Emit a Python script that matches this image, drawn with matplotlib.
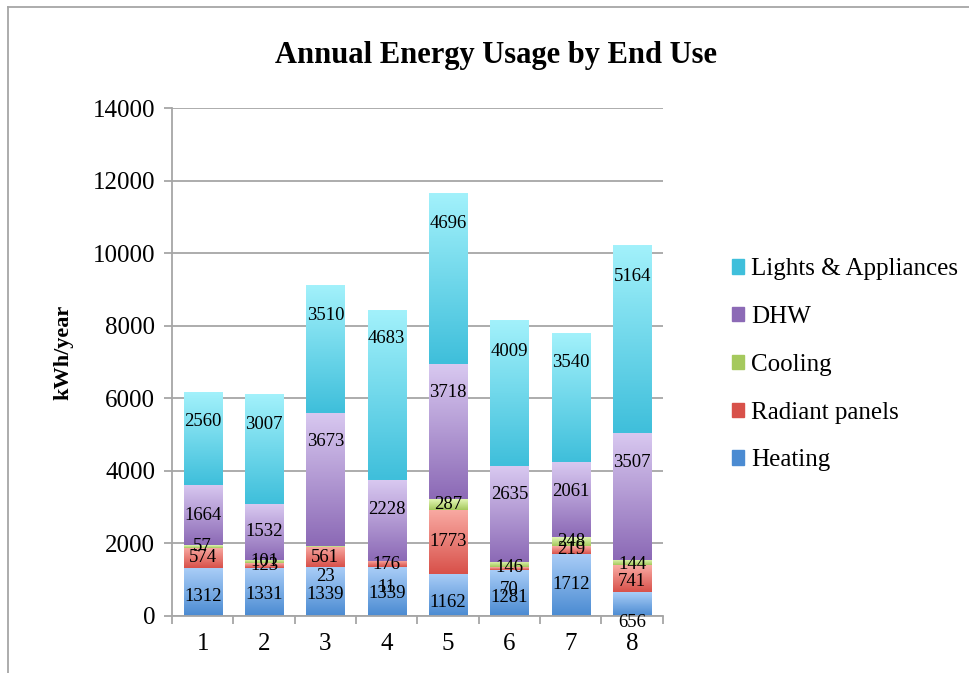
import numpy as np
import matplotlib.pyplot as plt
from matplotlib.colors import LinearSegmentedColormap
from matplotlib.lines import Line2D
from matplotlib.patches import Patch

plt.rcParams['font.family'] = ['Liberation Serif', 'DejaVu Serif']

# data
cases = ['1', '2', '3', '4', '5', '6', '7', '8']
heating = [1312, 1331, 1339, 1339, 1162, 1281, 1712, 656]
radiant = [574, 123, 561, 176, 1773, 70, 219, 741]
cooling = [57, 101, 23, 11, 287, 146, 248, 144]
dhw = [1664, 1532, 3673, 2228, 3718, 2635, 2061, 3507]
lights = [2560, 3007, 3510, 4683, 4696, 4009, 3540, 5164]

series = [
    ('Heating', heating, '#a9cdf7', '#4b8bd2'),
    ('Radiant panels', radiant, '#f9aaa3', '#d8514a'),
    ('Cooling', cooling, '#e2f6b4', '#a5c95d'),
    ('DHW', dhw, '#d8c8f0', '#8c6ab6'),
    ('Lights & Appliances', lights, '#a2f1fb', '#3fbfdb'),
]

# the labels in the original are not all at the segment centre,
# shift (in pixels, up is positive) per series and bar
nudge = {
    'Heating': [-4, -3, -3, -2, -8, -5, 0, -18],
    'Radiant panels': [0, 0, 0, 0, 0, -21, 0, -3],
    'Cooling': [0, 0, -30, -27, 0, -3, 0, -2],
    'DHW': [0, 0, 38, 11, 39, 19, 8, 34],
    'Lights & Appliances': [17, 25, 34, 56, 55, 42, 35, 63],
}

fig = plt.figure(figsize=(9.69, 6.73), dpi=100)
ax = fig.add_axes([0.1775, 0.0847, 0.5065, 0.7548])

x = np.arange(len(cases))
bottom = np.zeros(len(cases))
grad = np.linspace(0, 1, 64).reshape(-1, 1)
for name, vals, top_c, bot_c in series:
    vals = np.array(vals, dtype=float)
    bars = ax.bar(x, vals, 0.62, bottom=bottom, color=bot_c, zorder=2, linewidth=0)
    cmap = LinearSegmentedColormap.from_list(name, [bot_c, top_c])
    for i, b in enumerate(bars):
        bx, by = b.get_x(), b.get_y()
        ax.imshow(grad, cmap=cmap, origin='lower', aspect='auto', zorder=2.5,
                  extent=(bx, bx + b.get_width(), by, by + b.get_height()))
        ax.annotate(str(int(vals[i])), (x[i], bottom[i] + vals[i] / 2),
                    xytext=(0, nudge[name][i]), textcoords='offset pixels',
                    ha='center', va='center', fontsize=13.5, zorder=5)
    bottom += vals

ax.set_xlim(-0.5, len(cases) - 0.5)
ax.set_ylim(0, 14000)
ax.set_yticks(np.arange(0, 14001, 2000))
ax.grid(axis='y', color='#a6a6a6', linewidth=1.3, zorder=0)
ax.set_axisbelow(True)

ax.set_xticks(x)
ax.set_xticklabels(cases)
ax.set_xticks(np.arange(-0.5, len(cases), 1), minor=True)
ax.tick_params(axis='x', which='major', length=0, pad=12, labelsize=18)
ax.tick_params(axis='x', which='minor', length=6, width=1.3, color='#a6a6a6')
ax.tick_params(axis='y', length=6, width=1.3, color='#a6a6a6', labelsize=18, pad=6)

for s in ['top', 'right']:
    ax.spines[s].set_visible(False)
for s in ['left', 'bottom']:
    ax.spines[s].set_color('#a6a6a6')
    ax.spines[s].set_linewidth(1.3)

ax.set_ylabel('kWh/year', fontsize=16, fontweight='bold')
ax.yaxis.set_label_coords(-0.20, 0.518)
fig.text(0.512, 0.918, 'Annual Energy Usage by End Use', ha='center', va='center',
         fontsize=22, fontweight='bold')

handles = [Patch(color=bot_c, label=n) for n, _, _, bot_c in series][::-1]
fig.legend(handles=handles, loc='center left', bbox_to_anchor=(0.7554, 0.4577),
           frameon=False, fontsize=18, handlelength=0.5, handleheight=0.5,
           handletextpad=0.25, labelspacing=1.03, borderpad=0, borderaxespad=0)

# chart area border (only top and left edges visible)
bx0, by0 = 8 / 969, 1 - 7 / 673
fig.add_artist(Line2D([bx0, 1], [by0, by0], color='#a6a6a6', linewidth=1.3))
fig.add_artist(Line2D([bx0, bx0], [0, by0], color='#a6a6a6', linewidth=1.3))

fig.savefig('out.png', dpi=100)
